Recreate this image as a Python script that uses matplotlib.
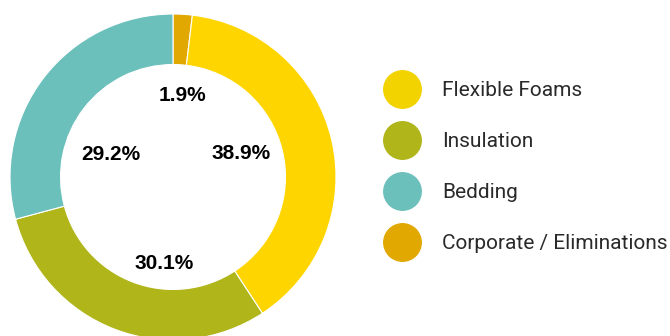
import matplotlib.pyplot as plt
from matplotlib.lines import Line2D

# segment shares, in drawing order (clockwise from 12 o'clock)
segments = ['Corporate / Eliminations', 'Flexible Foams', 'Insulation', 'Bedding']
shares = [1.9, 38.9, 30.1, 29.2]
colors = ['#E0A800', '#FFD500', '#B0B51A', '#6CC0BB']

# legend order as shown on the right
legend_labels = ['Flexible Foams', 'Insulation', 'Bedding', 'Corporate / Eliminations']
legend_colors = ['#F2D300', '#B0B51A', '#6CC0BB', '#E0A800']

# where the source puts the % labels (inside the hole, units of outer radius)
label_pos = [(0.055, 0.50), (0.42, 0.145), (-0.055, -0.53), (-0.38, 0.135)]

W, H = 670, 336
fig = plt.figure(figsize=(W / 100, H / 100), dpi=100)

# donut: centre ~(173, 177) px from top-left, outer radius ~163 px
cx, cy, r = 173, 177, 163
ax = fig.add_axes([(cx - r) / W, (H - cy - r) / H, 2 * r / W, 2 * r / H])

wedges, texts, autotexts = ax.pie(
    shares, colors=colors, startangle=90, counterclock=False, radius=1,
    autopct='%.1f%%', pctdistance=0.5,
    wedgeprops=dict(width=0.31, edgecolor='white', linewidth=0.8),
    textprops=dict(fontsize=15, fontweight='bold', color='black',
                   family=['Liberation Sans', 'DejaVu Sans']))
for t, v, pos in zip(autotexts, shares, label_pos):
    t.set_text(f'{v:.1f}%')
    t.set_position(pos)

# pie() resets the limits, so set them afterwards
ax.set_xlim(-1, 1)
ax.set_ylim(-1, 1)
ax.axis('off')

handles = [Line2D([], [], marker='o', linestyle='none', markersize=27,
                  markerfacecolor=c, markeredgecolor=c) for c in legend_colors]
fig.legend(handles, legend_labels, loc='upper left',
           bbox_to_anchor=(385 / W, 1 - 81 / H), frameon=False,
           prop=dict(family=['Roboto', 'DejaVu Sans'], size=15),
           labelcolor='#2a2a2a', handlelength=1.6, handletextpad=1.15,
           labelspacing=1.54, borderaxespad=0, borderpad=0)

fig.savefig('out.png', dpi=100)
